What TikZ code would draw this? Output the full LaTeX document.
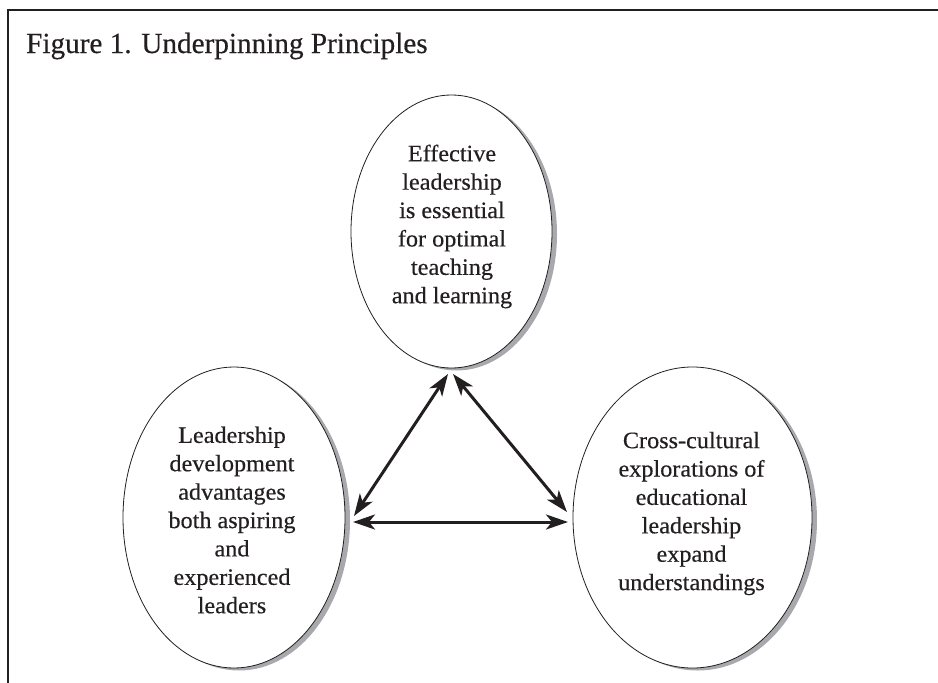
\documentclass[tikz,border=0pt]{standalone}
\usepackage{fontspec}
\setmainfont{Liberation Serif}
\newfontfamily\bubblefont{Liberation Serif}[FakeStretch=1.03,FakeBold=0.4]
\newfontfamily\titlefont{Liberation Serif}[FakeBold=0.4]
\usetikzlibrary{arrows.meta,shapes.geometric,shadows}
\definecolor{ink}{HTML}{231F20}
\definecolor{shade}{HTML}{A7A9AC}
\begin{document}
\begin{tikzpicture}[x=1pt,y=-1pt,
  bubble/.style={ellipse, draw=ink, line width=0.8pt, fill=white, inner sep=0pt, outer sep=0pt,
    drop shadow={shadow xshift=5pt, shadow yshift=-2.5pt, fill=shade, opacity=1}},
  btext/.style={align=center, text=ink, font=\bubblefont\fontsize{23.5}{28.4}\selectfont, inner sep=0pt},
  linkarrow/.style={draw=ink, line width=3pt,
    arrows={Stealth[length=22pt,width=15pt,inset=6pt]-Stealth[length=22pt,width=15pt,inset=6pt]}},
]
\useasboundingbox (0,0) rectangle (938,683);
\fill[white] (0,0) rectangle (938,683);
\draw[ink, line width=2pt] (8,684) -- (8,10) -- (939,10);
\node[anchor=base west, text=ink, inner sep=0pt, font=\titlefont\fontsize{29.2}{36}\selectfont] (title) at (26,53) {Figure 1. Underpinning Principles};

\node[bubble, minimum width=201pt, minimum height=273pt] (top) at (451.5,231.5) {};
\node[bubble, minimum width=222pt, minimum height=301pt] (left) at (234,517.5) {};
\node[bubble, minimum width=239pt, minimum height=301pt] (right) at (692.5,517.5) {};

\node[btext] (toptext) at (452,226.5) {Effective\\leadership\\is essential\\for optimal\\teaching\\and learning};
\node[btext] (lefttext) at (232,520) {Leadership\\development\\advantages\\both aspiring\\and\\experienced\\leaders};
\node[btext] (righttext) at (691.5,513.5) {Cross-cultural\\explorations of\\educational\\leadership\\expand\\understandings};

\draw[linkarrow] ([xshift=-3.5pt,yshift=-6pt]top.south) -- ([xshift=9pt,yshift=1.5pt]left.east);
\draw[linkarrow] ([xshift=1.5pt,yshift=-6pt]top.south) -- ([xshift=-6pt,yshift=5.5pt]right.west);
\draw[linkarrow] ([xshift=8pt,yshift=-4.5pt]left.east) -- ([xshift=-5pt,yshift=-4.5pt]right.west);
\end{tikzpicture}
\end{document}
